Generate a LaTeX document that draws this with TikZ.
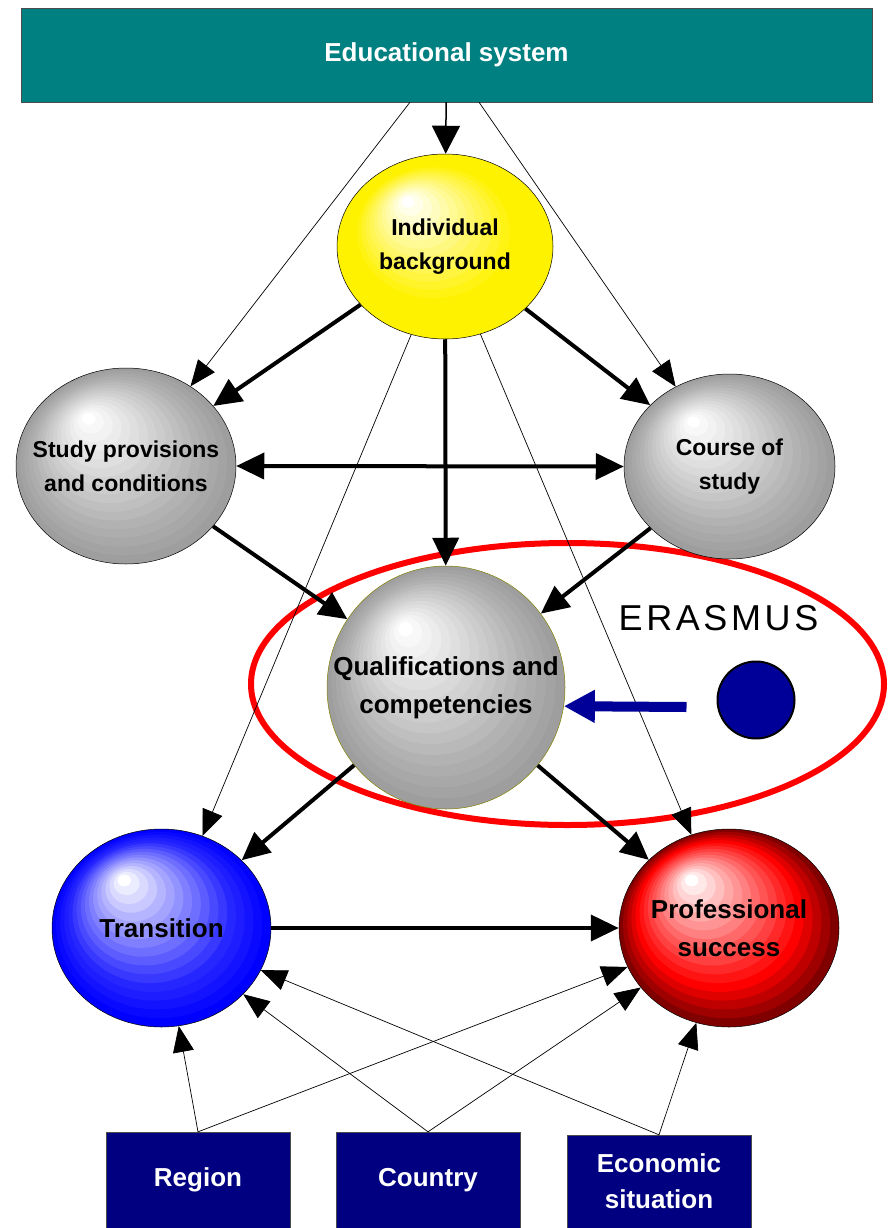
\documentclass[tikz,border=0pt]{standalone}
\usepackage{fontspec}
\setmainfont{Liberation Sans}
\newfontfamily\erasfont[LetterSpace=10]{Liberation Sans}
\usetikzlibrary{shapes.geometric,arrows.meta}

\definecolor{eduteal}{RGB}{0,128,128}
\definecolor{boxnavy}{RGB}{0,0,128}
\definecolor{dotblue}{RGB}{0,0,153}
\definecolor{qcline}{RGB}{128,128,0}

% banded ball: x, y, x radius, y radius, edge colour, middle colour
\newcommand{\bandedball}[6]{%
  \colorlet{edgecol}{#5}\colorlet{midcol}{#6}%
  \foreach \k in {0,...,16}{%
    \pgfmathsetmacro{\ringt}{\k/16}
    \pgfmathsetmacro{\ringcx}{#1-0.34*#3*\ringt}
    \pgfmathsetmacro{\ringcy}{#2-0.48*#4*\ringt}
    \pgfmathsetmacro{\ringrx}{#3*(1-0.94*\ringt)}
    \pgfmathsetmacro{\ringry}{#4*(1-0.94*\ringt)}
    \pgfmathtruncatemacro{\ringpa}{min(100,\ringt*100/0.25)}
    \pgfmathtruncatemacro{\ringpb}{max(0,(\ringt-0.25)*100/0.75)}
    \colorlet{ringcol}{midcol!\ringpa!edgecol}
    \colorlet{ringcol}{white!\ringpb!ringcol}
    \fill [ringcol] (\ringcx,\ringcy) ellipse [x radius=\ringrx pt, y radius=\ringry pt];
  }}

\begin{document}
\begin{tikzpicture}[x=1pt,y=-1pt]
    \tikzstyle{every node}=[font=\bfseries, inner sep=0pt]
    \tikzstyle{sphere}=[ellipse, draw=black, line width=0.5pt]
    \tikzstyle{small text}=[align=center, font=\fontsize{23}{34}\selectfont\bfseries]
    \tikzstyle{big text}=[align=center, font=\fontsize{26}{38}\selectfont\bfseries]
    \tikzstyle{factor}=[rectangle, draw=black!70, fill=boxnavy, text=white, align=center, font=\fontsize{26}{36}\selectfont\bfseries, minimum width=184pt]
    \tikzstyle{thin arrow}=[-{Triangle[length=26pt,width=21pt]}, line width=0.7pt]
    \tikzstyle{thick arrow}=[-{Triangle[length=28pt,width=26pt]}, line width=4pt]
    \useasboundingbox (0,0) rectangle (890,1228);

    % frame and outside factors
    \node [rectangle, draw=black!70, fill=eduteal, text=white, font=\fontsize{26}{30}\selectfont\bfseries, minimum width=851pt, minimum height=94pt] (edu) at (446.5,55) {Educational system};
    \node [factor, minimum height=96pt] (region) at (198,1180) {Region};
    \node [factor, minimum height=96pt] (country) at (428,1180) {Country};
    \node [factor, minimum height=93pt] (economy) at (659,1181.5) {Economic\\situation};

    % ERASMUS ring
    \draw [red, line width=6pt] (567.5,684) ellipse [x radius=316.5pt, y radius=141pt];

    % spheres
    \bandedball{445}{246.5}{108}{92.5}{yellow}{yellow}
    \bandedball{126}{466}{110}{98}{black!38}{black!30}
    \bandedball{729.5}{466.5}{105.5}{92.5}{black!38}{black!30}
    \bandedball{446}{687.5}{119}{121.5}{black!38}{black!30}
    \bandedball{161.5}{928}{109.5}{99}{blue}{blue!85}
    \bandedball{729}{928}{110}{99}{red!50!black}{red}
    \node [sphere, minimum width=216pt, minimum height=185pt] (ib) at (445,246.5) {};
    \node [sphere, minimum width=220pt, minimum height=196pt] (sp) at (126,466) {};
    \node [sphere, minimum width=211pt, minimum height=185pt] (cs) at (729.5,466.5) {};
    \node [sphere, draw=qcline, minimum width=238pt, minimum height=243pt] (qc) at (446,687.5) {};
    \node [sphere, minimum width=219pt, minimum height=198pt] (tr) at (161.5,928) {};
    \node [sphere, minimum width=220pt, minimum height=198pt] (ps) at (729,928) {};

    \node [small text] (ibtext) at (ib) {Individual\\background};
    \node [small text] (sptext) at (sp) {Study provisions\\and conditions};
    \node [small text] (cstext) at (cs) {Course of\\study};
    \node [big text] (qctext) at (qc) {Qualifications and\\competencies};
    \node [big text] (trtext) at (tr) {Transition};
    \node [big text] (pstext) at (ps) {Professional\\success};

    \node [font=\fontsize{36}{40}\selectfont\erasfont] (erasmus) at (718.5,618) {ERASMUS};
    \node [circle, draw=black, line width=2pt, fill=dotblue, minimum size=77pt] (dot) at (756,700) {};

    % thin connectors
    \draw [-{Triangle[length=28pt,width=28pt]}, line width=1.5pt] (edu) -- (ib);
    \draw [thin arrow] ([xshift=-36.5pt]edu.south) -- (sp.51.7);
    \draw [thin arrow] ([xshift=32.5pt]edu.south) -- (cs.124.4);
    \draw [thin arrow] (ib.249.4) -- (tr.66.5);
    \draw [thin arrow] (ib.292.8) -- (ps.112.8);
    \draw [thin arrow] (region.north) -- (tr.280);
    \draw [thin arrow] (region.north) -- (ps.201);
    \draw [thin arrow] (country.north) -- (tr.321.9);
    \draw [thin arrow] (country.north) -- (ps.214.6);
    \draw [thin arrow] (economy.north) -- (tr.337.5);
    \draw [thin arrow] (economy.north) -- (ps.251.7);

    % thick connectors
    \draw [thick arrow] (ib) -- (sp);
    \draw [thick arrow] (ib) -- (cs);
    \draw [thick arrow] (ib) -- (qc);
    \draw [{Triangle[length=28pt,width=26pt]}-{Triangle[length=28pt,width=26pt]}, line width=4pt] (sp.east) -- (cs.west);
    \draw [thick arrow] (sp) -- (qc);
    \draw [thick arrow] (cs) -- (qc);
    \draw [thick arrow] (qc) -- (tr);
    \draw [thick arrow] (qc) -- (ps);
    \draw [thick arrow] (tr) -- (ps);

    % ERASMUS influence
    \draw [dotblue, -{Triangle[length=31pt,width=31pt]}, line width=10pt] ([shift={(-30pt,-7pt)}]dot.west) -- (qc.351);
\end{tikzpicture}
\end{document}
